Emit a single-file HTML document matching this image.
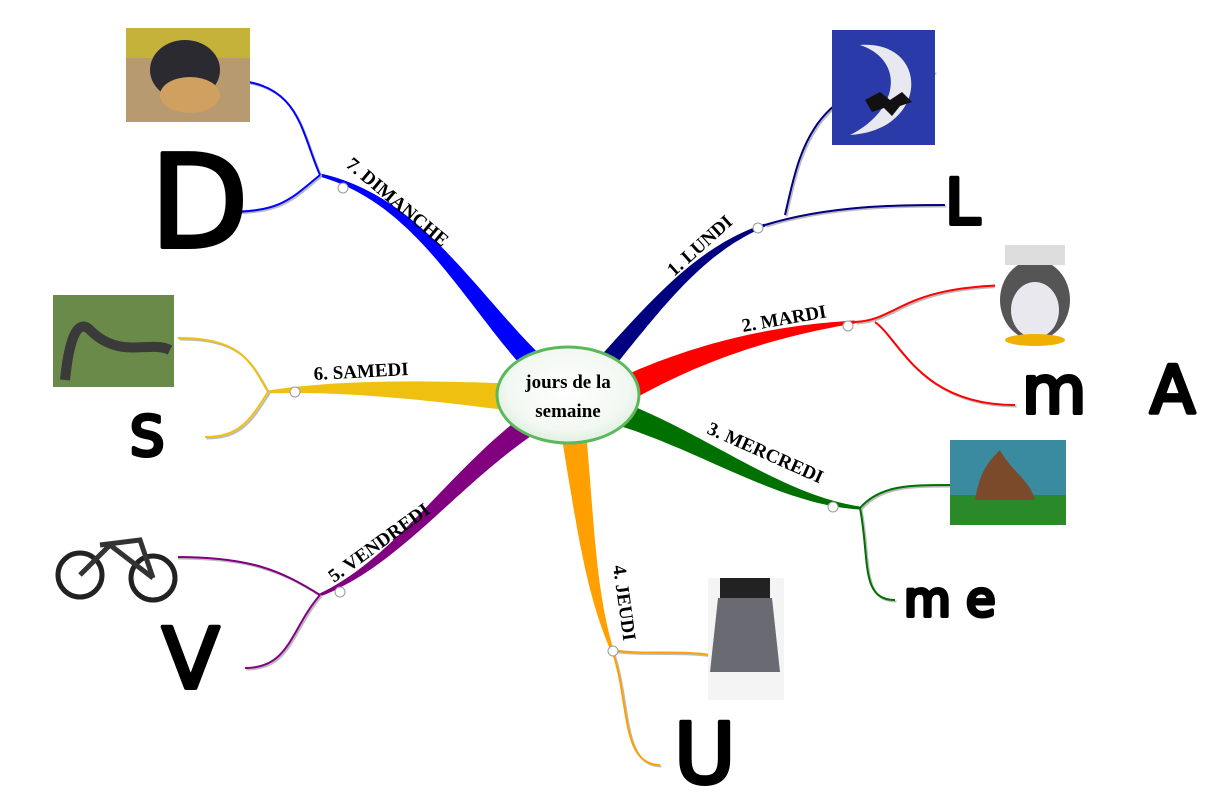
<!DOCTYPE html>
<html><head><meta charset="utf-8"><style>
html,body{margin:0;padding:0;background:#fff;}
svg{display:block;}
.lbl{font-family:"Liberation Serif",serif;font-weight:bold;font-size:19px;fill:#000;}
.hw{font-family:"DejaVu Sans","Liberation Sans",sans-serif;font-weight:normal;fill:#000;stroke:#000;stroke-width:4;stroke-linejoin:round;}
</style></head><body>
<svg id="s" width="1220" height="795" viewBox="0 0 1220 795" xmlns="http://www.w3.org/2000/svg">
<defs>
<radialGradient id="cg" cx="50%" cy="45%" r="60%"><stop offset="0" stop-color="#ffffff"/><stop offset="0.7" stop-color="#f2f8f2"/><stop offset="1" stop-color="#d8ecd8"/></radialGradient>
</defs>
<g id="branches"></g>
<g id="subs" fill="none"></g>

<!-- images -->
<rect x="832" y="30" width="103" height="115" fill="#2a3aa8"/>
<path d="M860,45 C930,40 930,130 850,135 C900,110 905,60 860,45Z" fill="#e8e8f0"/>
<path d="M865,100 l15,-8 l10,8 l12,-8 l10,10 l-12,4 l-8,10 l-8,-8 l-12,4z" fill="#111"/>
<rect x="126" y="28" width="124" height="94" fill="#b89a70"/>
<rect x="126" y="28" width="124" height="30" fill="#c4b23a"/>
<ellipse cx="185" cy="70" rx="35" ry="30" fill="#2a2a30"/>
<ellipse cx="190" cy="95" rx="30" ry="18" fill="#d0a060"/>
<rect x="995" y="243" width="82" height="104" fill="#fff"/>
<ellipse cx="1035" cy="300" rx="35" ry="40" fill="#555"/>
<ellipse cx="1035" cy="310" rx="24" ry="28" fill="#e8e8ee"/>
<rect x="1005" y="245" width="60" height="20" fill="#ddd"/>
<ellipse cx="1035" cy="340" rx="30" ry="6" fill="#f0b000"/>
<rect x="950" y="440" width="116" height="85" fill="#3a8aa0"/>
<rect x="950" y="495" width="116" height="30" fill="#2a8a2a"/>
<path d="M975,500 C980,470 990,460 1000,450 C1010,470 1030,480 1035,500Z" fill="#7a4a2a"/>
<rect x="708" y="578" width="76" height="122" fill="#f4f4f4"/>
<rect x="720" y="578" width="50" height="20" fill="#222"/>
<path d="M718,598 L772,598 L780,672 L710,672Z" fill="#6a6a72"/>
<rect x="53" y="295" width="121" height="92" fill="#6a8a4a"/>
<path d="M65,380 C70,330 80,320 90,330 C120,360 150,340 170,350" stroke="#3a3a3a" stroke-width="10" fill="none"/>
<rect x="53" y="517" width="125" height="88" fill="#fff"/>
<circle cx="80" cy="575" r="22" fill="none" stroke="#222" stroke-width="5"/>
<circle cx="153" cy="578" r="22" fill="none" stroke="#222" stroke-width="5"/>
<path d="M80,575 L110,545 L153,578 M100,545 L140,540 L153,578" stroke="#333" stroke-width="5" fill="none"/>

<!-- centre -->
<ellipse cx="568" cy="395" rx="71" ry="48" fill="url(#cg)" stroke="#5cb85c" stroke-width="3"/>
<text class="lbl" x="568" y="388" text-anchor="middle" font-size="18">jours de la</text>
<text class="lbl" x="568" y="417" text-anchor="middle" font-size="18">semaine</text>

<!-- labels -->
<text class="lbl" transform="translate(674,277) rotate(-42)">1. LUNDI</text>
<text class="lbl" transform="translate(743,332) rotate(-10)">2. MARDI</text>
<text class="lbl" transform="translate(706,433) rotate(24)">3. MERCREDI</text>
<text class="lbl" transform="translate(613,566) rotate(82)">4. JEUDI</text>
<text class="lbl" transform="translate(334,583) rotate(-36)">5. VENDREDI</text>
<text class="lbl" transform="translate(314,380) rotate(-3)">6. SAMEDI</text>
<text class="lbl" transform="translate(345,166) rotate(40)">7. DIMANCHE</text>

<!-- node dots -->
<g fill="#fff" stroke="#999" stroke-width="1">
<circle cx="758" cy="228" r="5"/><circle cx="848" cy="326" r="5"/><circle cx="833" cy="507" r="5"/>
<circle cx="613" cy="651" r="5"/><circle cx="340" cy="592" r="5"/><circle cx="295" cy="392" r="5"/><circle cx="343" cy="188" r="5"/>
</g>

<!-- handwritten letters -->
<text class="hw" x="945" y="224" font-size="63">L</text>
<text class="hw" x="1022" y="413" font-size="66">m</text>
<text class="hw" x="1150" y="413" font-size="66">A</text>
<text class="hw" x="904" y="616" font-size="48">m e</text>
<text class="hw" x="674" y="783" font-size="84">U</text>
<text class="hw" x="162" y="688" font-size="84">V</text>
<text class="hw" x="150" y="247" font-size="128">D</text>
<text class="hw" x="130" y="455" font-size="54">S</text>
</svg>
<script>
var NS="http://www.w3.org/2000/svg";
function bez(p,t){var u=1-t;return[u*u*u*p[0][0]+3*u*u*t*p[1][0]+3*u*t*t*p[2][0]+t*t*t*p[3][0],u*u*u*p[0][1]+3*u*u*t*p[1][1]+3*u*t*t*p[2][1]+t*t*t*p[3][1]];}
function taper(p,w0,w1,col){var L=[],R=[],N=40;for(var i=0;i<=N;i++){var t=i/N,a=bez(p,Math.max(0,t-0.01)),b=bez(p,Math.min(1,t+0.01)),c=bez(p,t);var dx=b[0]-a[0],dy=b[1]-a[1],l=Math.hypot(dx,dy)||1;var w=(w0+(w1-w0)*t)/2;L.push([c[0]-dy/l*w,c[1]+dx/l*w]);R.push([c[0]+dy/l*w,c[1]-dx/l*w]);}
var pts=L.concat(R.reverse());var e=document.createElementNS(NS,"polygon");e.setAttribute("points",pts.map(function(q){return q[0].toFixed(1)+","+q[1].toFixed(1)}).join(" "));e.setAttribute("fill",col);document.getElementById("branches").appendChild(e);}
var B=[
[[[600,370],[660,300],[700,250],[765,225]],18,3,"#000080"],
[[[620,392],[700,350],[780,330],[855,322]],26,3,"#ff0000"],
[[[615,412],[700,440],[780,500],[860,508]],24,3,"#007000"],
[[[572,420],[585,520],[590,590],[612,650]],26,3,"#ffa000"],
[[[535,420],[450,480],[400,560],[320,595]],22,3,"#800080"],
[[[520,398],[430,390],[340,385],[268,392]],28,3,"#f0c010"],
[[[540,370],[470,300],[420,200],[320,175]],22,3,"#0000ff"]];
B.forEach(function(b){taper(b[0],b[1],b[2],b[3]);});
var S=[
["M765,225 C830,205 900,205 945,205","#000080"],["M785,215 C800,150 810,80 935,72","#000080"],
["M855,322 C900,320 900,285 1020,285","#ff0000"],["M875,322 C900,340 920,405 1015,405","#ff0000"],
["M860,508 C880,485 910,485 950,485","#007000"],["M860,508 C870,560 860,600 895,600","#007000"],
["M612,650 C640,655 680,650 710,655","#ffa000"],["M612,650 C630,700 620,765 660,765","#ffa000"],
["M320,595 C280,570 250,557 175,557","#800080"],["M320,595 C290,630 290,668 245,668","#800080"],
["M268,392 C250,360 240,338 178,338","#f0c010"],["M268,392 C250,420 240,437 205,437","#f0c010"],
["M320,175 C300,130 300,80 225,80","#0000ff"],["M320,175 C290,200 280,212 225,212","#0000ff"]];
var g=document.getElementById("subs");
S.forEach(function(s){var a=document.createElementNS(NS,"path");a.setAttribute("d",s[0]);a.setAttribute("stroke","#bbb");a.setAttribute("stroke-width","2");a.setAttribute("transform","translate(1.5,1.5)");g.appendChild(a);
var b=document.createElementNS(NS,"path");b.setAttribute("d",s[0]);b.setAttribute("stroke",s[1]);b.setAttribute("stroke-width","2");g.appendChild(b);});
</script>
</body></html>
